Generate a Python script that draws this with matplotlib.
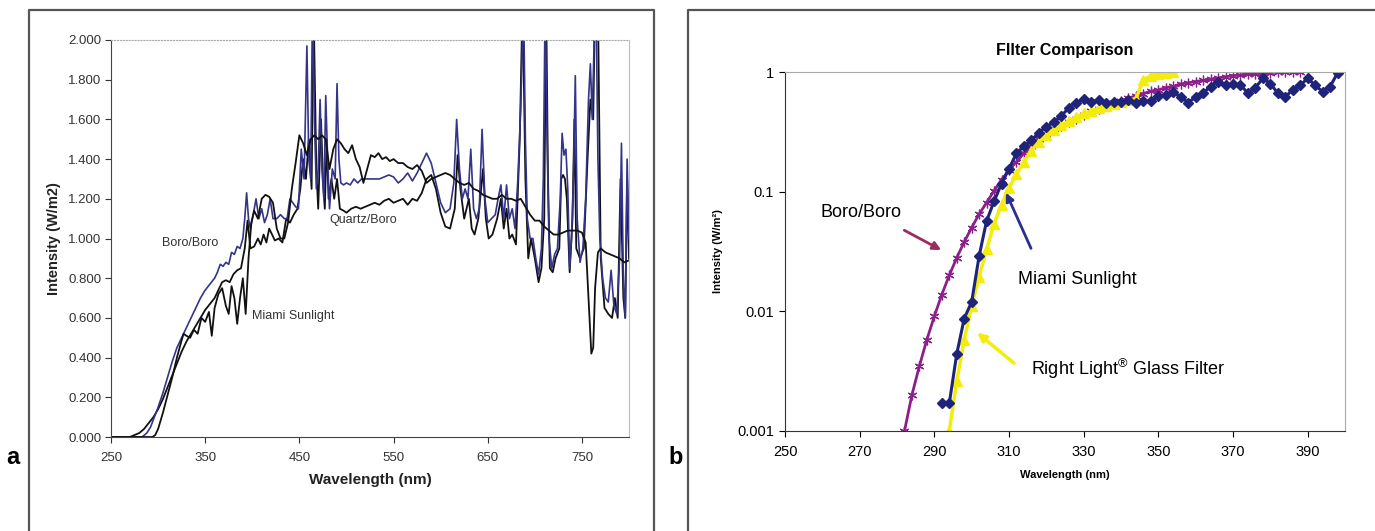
import numpy as np
import matplotlib
matplotlib.use("Agg")
import matplotlib.pyplot as plt
from matplotlib.lines import Line2D

plt.rcParams['font.family'] = ['Liberation Sans', 'DejaVu Sans']
plt.rcParams['mathtext.fontset'] = 'custom'
plt.rcParams['mathtext.rm'] = 'Liberation Sans'

# ---- panel a: spectra (W/m2) ----
boro_wl = [250, 283, 288, 292, 296, 300, 305, 310, 315, 320, 325, 330, 335, 340, 345, 350, 355, 360,
           363, 366, 369, 372, 375, 378, 381, 384, 387, 390, 392, 394, 396, 398, 401, 404, 407, 410,
           413, 416, 419, 422, 426, 430, 434, 437, 440, 443, 446, 449, 452, 455, 458, 460, 462, 464,
           466, 468, 470, 472, 474, 476, 478, 480, 482, 485, 488, 490, 492, 494, 497, 500, 504, 508,
           512, 516, 520, 525, 530, 535, 540, 545, 550, 555, 560, 565, 570, 575, 580, 585, 590, 595,
           600, 605, 610, 614, 617, 620, 623, 626, 629, 632, 635, 638, 641, 644, 647, 650, 654, 658,
           661, 664, 667, 670, 673, 676, 679, 682, 685, 688, 690, 692, 695, 698, 701, 704, 707, 709,
           711, 713, 715, 718, 721, 724, 727, 729, 731, 733, 735, 737, 739, 741, 743, 745, 748, 751,
           754, 757, 759, 761, 763, 765, 767, 769, 772, 775, 778, 781, 784, 787, 790, 792, 794, 796,
           798, 800]
boro_int = [0, 0, 0.02, 0.05, 0.10, 0.15, 0.22, 0.30, 0.38, 0.45, 0.50, 0.55, 0.60, 0.65, 0.70, 0.74, 0.77, 0.80,
            0.83, 0.87, 0.86, 0.88, 0.87, 0.93, 0.92, 0.96, 0.95, 1.00, 1.10, 1.23, 1.10, 1.05, 1.12, 1.20, 1.10, 1.15,
            1.08, 1.12, 1.20, 1.10, 1.10, 1.12, 1.10, 1.10, 1.20, 1.18, 1.16, 1.15, 1.45, 1.30, 1.97, 1.40, 1.30, 2.20,
            1.60, 1.25, 1.35, 1.70, 1.35, 1.20, 1.72, 1.40, 1.15, 1.35, 1.30, 1.78, 1.40, 1.28, 1.27, 1.28, 1.27, 1.30,
            1.28, 1.30, 1.30, 1.30, 1.30, 1.30, 1.31, 1.32, 1.31, 1.28, 1.30, 1.33, 1.29, 1.33, 1.38, 1.43, 1.38, 1.28,
            1.18, 1.13, 1.15, 1.28, 1.60, 1.35, 1.20, 1.25, 1.20, 1.45, 1.15, 1.10, 1.15, 1.55, 1.20, 1.08, 1.10, 1.12,
            1.20, 1.27, 1.10, 1.27, 1.10, 1.15, 1.05, 1.30, 1.65, 2.20, 1.50, 1.10, 1.00, 1.00, 0.90, 0.82, 0.95, 1.30,
            2.20, 1.50, 1.00, 0.85, 0.92, 0.95, 1.20, 1.53, 1.42, 1.45, 1.25, 0.85, 1.00, 1.30, 1.82, 1.10, 0.88, 0.95,
            1.20, 1.70, 1.88, 1.60, 2.00, 2.20, 1.40, 1.00, 0.80, 0.70, 0.68, 0.84, 0.66, 0.62, 0.90, 1.48, 0.80, 0.60,
            1.40, 1.00]

quartz_wl = [250, 270, 275, 280, 285, 290, 295, 300, 305, 310, 315, 320, 325, 330, 335, 340, 345, 350,
             355, 360, 364, 368, 372, 376, 380, 384, 388, 392, 395, 398, 402, 406, 409, 412, 415, 418,
             421, 424, 428, 432, 436, 440, 444, 448, 451, 454, 457, 460, 463, 465, 468, 470, 473, 475,
             477, 479, 481, 484, 487, 490, 493, 497, 500, 505, 510, 515, 520, 525, 530, 535, 540, 545,
             550, 555, 560, 565, 570, 575, 580, 585, 590, 595, 600, 605, 610, 615, 618, 621, 625, 630,
             633, 636, 640, 645, 648, 651, 655, 660, 664, 667, 670, 673, 676, 680, 684, 687, 690, 693,
             696, 700, 704, 707, 710, 712, 714, 716, 719, 722, 726, 728, 730, 732, 734, 737, 740, 742,
             744, 748, 752, 756, 759, 762, 764, 767, 770, 774, 778, 782, 785, 788, 791, 794, 796, 798,
             800]
quartz_int = [0, 0, 0.01, 0.02, 0.04, 0.07, 0.10, 0.14, 0.19, 0.25, 0.31, 0.37, 0.43, 0.48, 0.52, 0.56, 0.60, 0.64,
              0.67, 0.70, 0.74, 0.78, 0.79, 0.78, 0.82, 0.84, 0.85, 0.95, 1.09, 0.95, 0.96, 1.00, 0.97, 1.02, 0.98, 1.05,
              1.02, 0.99, 1.00, 0.98, 1.10, 1.08, 1.12, 1.15, 1.25, 1.40, 1.30, 1.50, 1.25, 2.20, 1.35, 1.15, 1.60, 1.30,
              1.15, 1.50, 1.20, 1.30, 1.20, 1.30, 1.15, 1.14, 1.13, 1.15, 1.16, 1.15, 1.16, 1.17, 1.18, 1.17, 1.19, 1.20,
              1.18, 1.19, 1.20, 1.17, 1.20, 1.19, 1.23, 1.30, 1.32, 1.25, 1.13, 1.06, 1.05, 1.15, 1.42, 1.25, 1.10, 1.20,
              1.05, 1.02, 1.10, 1.35, 1.10, 1.00, 1.02, 1.10, 1.20, 1.05, 1.15, 1.00, 1.02, 0.97, 1.50, 2.20, 1.30, 0.90,
              1.00, 0.90, 0.78, 0.85, 1.10, 2.20, 1.30, 0.85, 0.83, 0.90, 0.95, 1.30, 1.32, 1.30, 1.20, 0.83, 1.10, 1.60,
              0.95, 0.90, 0.95, 1.40, 1.70, 1.60, 2.20, 2.20, 0.90, 0.65, 0.62, 0.60, 0.70, 0.60, 1.30, 0.70, 0.60, 1.30,
              0.90]

sun_wl = [250, 294, 297, 300, 305, 310, 315, 320, 324, 327, 330, 334, 338, 342, 346, 350, 354, 357,
          360, 364, 368, 372, 375, 378, 381, 384, 387, 390, 393, 396, 399, 402, 406, 410, 414, 418,
          422, 426, 430, 434, 438, 442, 446, 450, 454, 458, 462, 466, 470, 474, 478, 482, 486, 490,
          494, 498, 502, 506, 510, 514, 518, 522, 526, 530, 534, 538, 542, 546, 550, 555, 560, 565,
          570, 575, 580, 585, 590, 595, 600, 605, 610, 615, 620, 625, 630, 635, 640, 645, 650, 655,
          660, 665, 670, 675, 680, 685, 690, 695, 700, 705, 710, 715, 720, 725, 730, 735, 740, 745,
          750, 754, 757, 760, 762, 764, 767, 770, 775, 780, 785, 790, 795, 800]
sun_int = [0, 0, 0.01, 0.04, 0.12, 0.21, 0.30, 0.40, 0.47, 0.52, 0.51, 0.50, 0.54, 0.52, 0.60, 0.58, 0.63, 0.51,
           0.65, 0.72, 0.75, 0.66, 0.62, 0.76, 0.70, 0.57, 0.70, 0.80, 0.62, 0.90, 1.08, 1.14, 1.10, 1.20, 1.22, 1.21,
           1.18, 1.05, 1.00, 1.00, 1.08, 1.25, 1.38, 1.52, 1.48, 1.42, 1.50, 1.52, 1.50, 1.52, 1.50, 1.35, 1.45, 1.50,
           1.48, 1.45, 1.43, 1.47, 1.40, 1.36, 1.28, 1.35, 1.42, 1.41, 1.43, 1.40, 1.41, 1.39, 1.40, 1.38, 1.38, 1.36,
           1.35, 1.37, 1.34, 1.28, 1.30, 1.31, 1.32, 1.33, 1.32, 1.30, 1.28, 1.27, 1.28, 1.25, 1.24, 1.22, 1.21, 1.20,
           1.20, 1.22, 1.20, 1.20, 1.19, 1.20, 1.16, 1.12, 1.09, 1.09, 1.06, 1.04, 1.02, 1.02, 1.03, 1.04, 1.04, 1.04,
           1.03, 0.98, 0.70, 0.42, 0.45, 0.75, 0.93, 0.95, 0.93, 0.92, 0.91, 0.90, 0.88, 0.89]

# ---- panel b: filter comparison (log scale) ----
boro_b_wl = list(range(282, 390, 2))
boro_b_int = [0.001, 0.0020, 0.0035, 0.0058, 0.0091, 0.0138, 0.020, 0.028, 0.038, 0.050, 0.065, 0.081,
              0.102, 0.126, 0.151, 0.178, 0.209, 0.240, 0.275, 0.302, 0.331, 0.355, 0.380, 0.407,
              0.437, 0.468, 0.490, 0.525, 0.550, 0.575, 0.603, 0.631, 0.661, 0.692, 0.708, 0.741,
              0.759, 0.794, 0.813, 0.832, 0.851, 0.871, 0.891, 0.912, 0.933, 0.944, 0.955, 0.966,
              0.977, 0.989, 1.0, 1.0, 1.0, 1.0]

miami_wl = list(range(292, 400, 2))
miami_int = [0.0017, 0.0017, 0.0044, 0.0087, 0.012, 0.029, 0.057, 0.083, 0.117, 0.155, 0.21, 0.24,
             0.27, 0.31, 0.35, 0.38, 0.43, 0.50, 0.555, 0.59, 0.565, 0.58, 0.55, 0.565, 0.56, 0.58,
             0.55, 0.575, 0.57, 0.63, 0.645, 0.68, 0.62, 0.555, 0.62, 0.67, 0.755, 0.83, 0.775, 0.80,
             0.78, 0.665, 0.74, 0.885, 0.80, 0.665, 0.62, 0.71, 0.775, 0.885, 0.775, 0.685, 0.755, 0.98]

rightlight_wl = list(range(294, 356, 2))
rightlight_int = [0.001, 0.0026, 0.0058, 0.011, 0.0195, 0.033, 0.054, 0.078, 0.107, 0.14, 0.178, 0.22,
                  0.26, 0.30, 0.33, 0.36, 0.39, 0.42, 0.45, 0.47, 0.50, 0.52, 0.54, 0.56, 0.58, 0.60,
                  0.86, 0.93, 0.96, 0.99, 1.0]

W, H = 1375, 531
fig = plt.figure(figsize=(W / 100, H / 100), dpi=100)


def fx(px):
    return px / W


def fy(py):
    return 1 - py / H


# panel frames
frame_kw = dict(color='#555555', lw=1.6, transform=fig.transFigure)
fig.add_artist(Line2D([fx(29), fx(29), fx(654), fx(654)], [0, fy(10), fy(10), 0], **frame_kw))
fig.add_artist(Line2D([fx(688), fx(688), 1.0], [0, fy(10), fy(10)], **frame_kw))
fig.text(fx(13), fy(458), 'a', fontsize=17, fontweight='bold', ha='center', va='center')
fig.text(fx(676), fy(458), 'b', fontsize=17, fontweight='bold', ha='center', va='center')

# ---- panel a ----
ax1 = fig.add_axes([fx(111), fy(437), 518 / W, 397 / H])
ax1.plot(quartz_wl, quartz_int, color='#111111', lw=1.3)
ax1.plot(boro_wl, boro_int, color='#34348a', lw=1.2)
ax1.plot(sun_wl, sun_int, color='#111111', lw=1.3)
ax1.set_xlim(250, 800)
ax1.set_ylim(0, 2.0)
ax1.set_xticks(range(250, 800, 100))
ax1.set_yticks(np.arange(0, 2.01, 0.2))
ax1.set_yticklabels(['%.3f' % v for v in np.arange(0, 2.01, 0.2)])
ax1.tick_params(labelsize=9.5, colors='#333333', length=4, pad=3)
ax1.tick_params(axis='x', pad=7)
for s in ['left', 'bottom']:
    ax1.spines[s].set_color('#444444')
ax1.spines['top'].set_color('#aaaaaa')
ax1.spines['top'].set_linestyle(':')
ax1.spines['right'].set_color('#bbbbbb')
ax1.set_xlabel('Wavelength (nm)', fontsize=11, fontweight='bold', color='#222222', labelpad=6)
ax1.set_ylabel('Intensity (W/m2)', fontsize=10.5, fontweight='bold', color='#222222', labelpad=5)
lab_kw = dict(fontsize=9, color='#333333', ha='left', va='center')
ax1.text(304, 0.977, 'Boro/Boro', **lab_kw)
ax1.text(482, 1.093, 'Quartz/Boro', **lab_kw)
ax1.text(399.5, 0.61, 'Miami Sunlight', **lab_kw)

# ---- panel b ----
ax2 = fig.add_axes([fx(785), fy(431), 560 / W, 359 / H])
ax2.plot(boro_b_wl, boro_b_int, color='#8b1f8b', lw=2, marker=(6, 2, 0), ms=7, mew=0.9)
ax2.plot(rightlight_wl, rightlight_int, color='#f4ec0c', lw=2.5, marker='^', ms=7)
ax2.plot(miami_wl, miami_int, color='#1f237a', lw=2.2, marker='D', ms=5)
ax2.set_yscale('log')
ax2.set_xlim(250, 400)
ax2.set_ylim(0.001, 1)
ax2.set_xticks(range(250, 400, 20))
ax2.set_yticks([0.001, 0.01, 0.1, 1])
ax2.set_yticklabels(['0.001', '0.01', '0.1', '1'])
ax2.yaxis.set_minor_locator(matplotlib.ticker.NullLocator())
ax2.tick_params(labelsize=10.5, length=4, pad=4)
ax2.tick_params(axis='x', pad=6)
ax2.spines['top'].set_color('#aaaaaa')
ax2.spines['right'].set_color('#aaaaaa')
ax2.spines['left'].set_color('#333333')
ax2.spines['bottom'].set_color('#333333')
ax2.set_title('FIlter Comparison', fontsize=11.5, fontweight='bold', pad=12)
ax2.set_xlabel('Wavelength (nm)', fontsize=8, fontweight='bold', labelpad=8)
ax2.set_ylabel('Intensity (W/m²)', fontsize=8, fontweight='bold', labelpad=10)

ax2.text(259.4, 0.0664, 'Boro/Boro', fontsize=13, ha='left', va='center')
ax2.annotate('', xy=(292.5, 0.0317), xytext=(281.3, 0.0488),
             arrowprops=dict(arrowstyle='-|>', color='#9e2a5e', lw=2, mutation_scale=12))
ax2.text(312.4, 0.0183, 'Miami Sunlight', fontsize=13, ha='left', va='center')
ax2.annotate('', xy=(308.9, 0.103), xytext=(316.2, 0.032),
             arrowprops=dict(arrowstyle='-|>', color='#2b2f8f', lw=2, mutation_scale=12))
ax2.text(315.9, 0.0033, r'Right Light$^{\mathrm{®}}$ Glass Filter', fontsize=13, ha='left', va='center')
ax2.annotate('', xy=(300.9, 0.00686), xytext=(311.9, 0.00357),
             arrowprops=dict(arrowstyle='-|>', color='#f4ec0c', lw=2.5, mutation_scale=12))

fig.savefig('out.png', dpi=100)
